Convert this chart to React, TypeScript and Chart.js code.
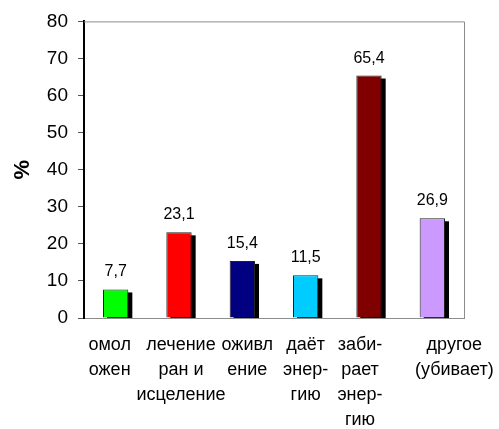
import React, { useEffect, useRef } from 'react';
import { Chart, registerables } from 'chart.js';

Chart.register(...registerables);

const categories: string[][] = [
  ['омол', 'ожен'],
  ['лечение', 'ран и', 'исцеление'],
  ['оживл', 'ение'],
  ['даёт', 'энер-', 'гию'],
  ['заби-', 'рает', 'энер-', 'гию'],
  ['другое', '(убивает)'],
];
const values: number[] = [7.7, 23.1, 15.4, 11.5, 65.4, 26.9];
const valueLabels: string[] = ['7,7', '23,1', '15,4', '11,5', '65,4', '26,9'];
const barColors: string[] = ['#00FF00', '#FF0000', '#000080', '#00CCFF', '#800000', '#CC99FF'];
const yMin = 0;
const yMax = 80;
const yStep = 10;
const yTitle = '%';

// styling: horizontal nudge of each category label (px), as in the original layout
const labelNudge: number[] = [-6, 2, 5, 0, -9, 22];

const FONT = 'Arial, "Liberation Sans", sans-serif';
const SHADOW_DX = 4;
const SHADOW_DY = 3;

const decorPlugin = {
  id: 'decor',
  beforeDatasetsDraw(chart: any) {
    const ctx = chart.ctx;
    const { left, right, top, bottom } = chart.chartArea;
    const meta = chart.getDatasetMeta(0);
    ctx.save();
    ctx.beginPath();
    ctx.rect(left, top, right - left, bottom - top);
    ctx.clip();
    ctx.fillStyle = '#000000';
    meta.data.forEach((bar: any) => {
      const { x, y, base, width } = bar.getProps(['x', 'y', 'base', 'width'], true);
      ctx.fillRect(x - width / 2 + SHADOW_DX, y + SHADOW_DY, width, base - y);
    });
    ctx.restore();
  },
  afterDatasetsDraw(chart: any) {
    const ctx = chart.ctx;
    const { left, right, top, bottom } = chart.chartArea;
    ctx.save();
    ctx.strokeStyle = '#8c8c8c';
    ctx.lineWidth = 1;
    ctx.beginPath();
    ctx.moveTo(left, top + 0.5);
    ctx.lineTo(right + 0.5, top + 0.5);
    ctx.lineTo(right + 0.5, bottom);
    ctx.stroke();
    const meta = chart.getDatasetMeta(0);
    ctx.fillStyle = '#000000';
    ctx.font = `16px ${FONT}`;
    ctx.textAlign = 'center';
    ctx.textBaseline = 'alphabetic';
    meta.data.forEach((bar: any, i: number) => {
      ctx.fillText(valueLabels[i], bar.x, bar.y - 13);
    });
    // category labels
    const xs = chart.scales.x;
    ctx.font = `18px ${FONT}`;
    ctx.textBaseline = 'middle';
    categories.forEach((lines, i) => {
      const cx = xs.getPixelForTick(i) + labelNudge[i];
      lines.forEach((t, j) => {
        ctx.fillText(t, cx, bottom + 27 + j * 25);
      });
    });
    ctx.restore();
  },
};

export default function App() {
  const ref = useRef<HTMLCanvasElement>(null);
  useEffect(() => {
    document.body.style.margin = '0';
    const chart = new Chart(ref.current as HTMLCanvasElement, {
      type: 'bar',
      data: {
        labels: categories,
        datasets: [
          {
            data: values,
            backgroundColor: barColors,
            borderColor: '#222222',
            borderWidth: 1,
            categoryPercentage: 1,
            barPercentage: 0.4,
          },
        ],
      },
      options: {
        responsive: false,
        animation: false,
        layout: { padding: { left: 0, top: 18, right: 35, bottom: 0 } },
        plugins: { legend: { display: false }, tooltip: { enabled: false } },
        scales: {
          x: {
            grid: { display: false, drawTicks: false },
            border: { color: '#8c8c8c', width: 1 },
            ticks: { display: false },
            afterFit: (s: any) => {
              s.height = 111;
            },
          },
          y: {
            min: yMin,
            max: yMax,
            grid: { drawOnChartArea: false, drawTicks: true, tickLength: 6, color: '#555555' },
            border: { color: '#000000', width: 2 },
            ticks: {
              stepSize: yStep,
              color: '#000000',
              font: { family: FONT, size: 19 },
              padding: 10,
            },
            title: {
              display: true,
              text: yTitle,
              color: '#000000',
              font: { family: FONT, size: 22, weight: 'bold' },
              padding: { top: 10, bottom: 0 },
            },
            afterFit: (s: any) => {
              s.width = 84;
            },
          },
        },
      },
      plugins: [decorPlugin],
    });
    return () => chart.destroy();
  }, []);
  return (
    <div style={{ position: 'fixed', left: 0, top: 0 }}>
      <canvas ref={ref} width={499} height={429} style={{ display: 'block' }} />
    </div>
  );
}
